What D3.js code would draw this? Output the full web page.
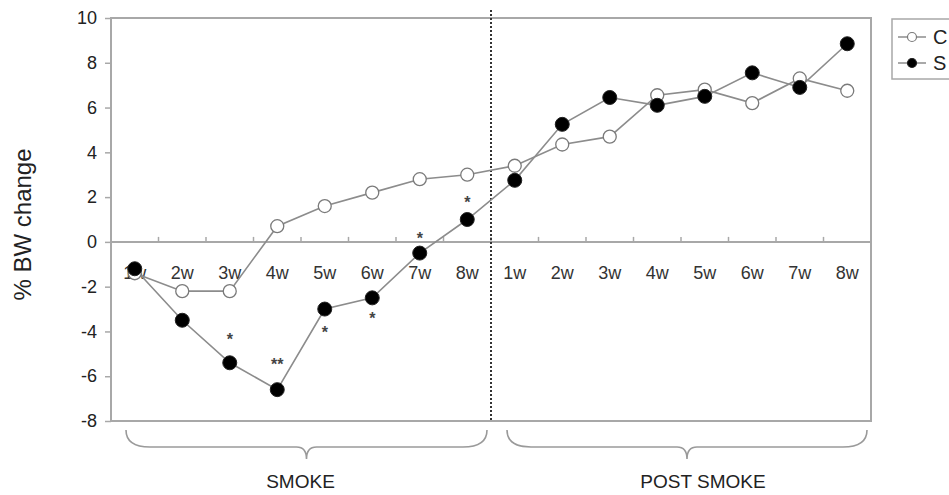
<!DOCTYPE html>
<html>
<head>
<meta charset="utf-8">
<script src="https://cdn.jsdelivr.net/npm/d3@7"></script>
<style>
  body { margin: 0; background: #fff; }
  svg { display: block; font-family: "Liberation Sans", Arial, sans-serif; }
</style>
</head>
<body>
<div id="chart"></div>
<script>
// data (% body weight change per week)
const weekLabels = ['1w', '2w', '3w', '4w', '5w', '6w', '7w', '8w'];
const phaseLabels = ['SMOKE', 'POST SMOKE'];
// legend labels are cut at the right edge in the figure, only the first letter shows
const seriesNames = ['C', 'S'];
const controlValues = [-1.4, -2.2, -2.2, 0.7, 1.6, 2.2, 2.8, 3.0, 3.4, 4.35, 4.7, 6.55, 6.8, 6.2, 7.3, 6.75];
const smokeValues = [-1.2, -3.5, -5.4, -6.6, -3.0, -2.5, -0.5, 1.0, 2.75, 5.25, 6.45, 6.1, 6.5, 7.55, 6.9, 8.85];
// significance marks (smoke vs control) and where they sit
const starLabels = ['', '', '*', '**', '*', '*', '*', '*', '', '', '', '', '', '', '', ''];
const starValues = [0, 0, -4.2, -5.3, -3.9, -3.25, 0.3, 1.9, 0, 0, 0, 0, 0, 0, 0, 0];
const yTicks = [-8, -6, -4, -2, 0, 2, 4, 6, 8, 10];

const width = 949, height = 495;
const plot = { left: 111, right: 871, top: 18, bottom: 421 };

// unique keys for the band scale, one per phase/week
const keys = [];
phaseLabels.forEach(p => weekLabels.forEach(w => keys.push(p + '|' + w)));

const x = d3.scaleBand().domain(keys).range([plot.left, plot.right]).padding(0);
const y = d3.scaleLinear().domain([-8, 10]).range([plot.bottom, plot.top]);
const cx = i => x(keys[i]) + x.bandwidth() / 2;

const svg = d3.select('#chart').append('svg')
    .attr('width', width)
    .attr('height', height);

const axisColor = '#a8a8a8';

// plot frame
svg.append('rect')
    .attr('x', plot.left).attr('y', plot.top)
    .attr('width', plot.right - plot.left)
    .attr('height', plot.bottom - plot.top)
    .attr('fill', 'none')
    .attr('stroke', axisColor)
    .attr('stroke-width', 2);

// y axis (plain hyphen minus like the original)
const yAxis = svg.append('g')
    .attr('transform', `translate(${plot.left},0)`)
    .call(d3.axisLeft(y).tickValues(yTicks).tickSize(6).tickPadding(8).tickFormat(d => String(d)));
yAxis.select('.domain').remove();
yAxis.selectAll('line').attr('stroke', axisColor).attr('stroke-width', 1.5);
yAxis.selectAll('text')
    .attr('fill', '#222')
    .style('font-size', '18px')
    .style('font-family', '"Liberation Sans", Arial, sans-serif');

svg.append('text')
    .attr('transform', `translate(31,${(y(10) + y(-8)) / 2 + 5}) rotate(-90)`)
    .attr('text-anchor', 'middle')
    .attr('fill', '#222')
    .style('font-size', '24px')
    .text('% BW change');

// zero line with week ticks
svg.append('line')
    .attr('x1', plot.left).attr('x2', plot.right)
    .attr('y1', y(0)).attr('y2', y(0))
    .attr('stroke', axisColor).attr('stroke-width', 2);

const bounds = keys.map(k => x(k)).concat([plot.right]);
svg.selectAll('.wtick').data(bounds).enter().append('line')
    .attr('class', 'wtick')
    .attr('x1', d => d).attr('x2', d => d)
    .attr('y1', y(0)).attr('y2', y(0) - 5)
    .attr('stroke', axisColor).attr('stroke-width', 1.5);

svg.selectAll('.wlabel').data(keys).enter().append('text')
    .attr('class', 'wlabel')
    .attr('x', (d, i) => cx(i))
    .attr('y', y(0) + 37)
    .attr('text-anchor', 'middle')
    .attr('fill', '#333')
    .style('font-size', '18px')
    .text(d => d.split('|')[1]);

// dotted divider between smoke and post smoke
const divX = x(keys[weekLabels.length]);
svg.append('line')
    .attr('x1', divX).attr('x2', divX)
    .attr('y1', plot.top - 8).attr('y2', plot.bottom)
    .attr('stroke', '#333')
    .attr('stroke-width', 2)
    .attr('stroke-dasharray', '2,2');

// series
const line = d3.line().x((d, i) => cx(i)).y(d => y(d));

[controlValues, smokeValues].forEach(vals => {
    svg.append('path').datum(vals)
        .attr('d', line)
        .attr('fill', 'none')
        .attr('stroke', '#8c8c8c')
        .attr('stroke-width', 1.6);
});

svg.selectAll('.ctrl').data(controlValues).enter().append('circle')
    .attr('class', 'ctrl')
    .attr('cx', (d, i) => cx(i))
    .attr('cy', d => y(d))
    .attr('r', 6.5)
    .attr('fill', '#fff')
    .attr('stroke', '#7a7a7a')
    .attr('stroke-width', 1.3);

svg.selectAll('.smk').data(smokeValues).enter().append('circle')
    .attr('class', 'smk')
    .attr('cx', (d, i) => cx(i))
    .attr('cy', d => y(d))
    .attr('r', 7)
    .attr('fill', '#000')
    .attr('stroke', '#222')
    .attr('stroke-width', 1);

// significance stars
starLabels.forEach((s, i) => {
    if (!s) return;
    svg.append('text')
        .attr('class', 'star')
        .attr('x', cx(i))
        .attr('y', y(starValues[i]) + 9)
        .attr('text-anchor', 'middle')
        .attr('fill', '#444')
        .style('font-size', '16px')
        .style('font-weight', 'bold')
        .text(s);
});

// braces under the plot
function brace(x1, x2, top) {
    const mid = top + 17, tip = top + 29, m = (x1 + x2) / 2;
    return `M${x1},${top} Q${x1},${mid} ${x1 + 24},${mid} L${m - 10},${mid} ` +
        `Q${m},${mid} ${m},${tip} Q${m},${mid} ${m + 10},${mid} L${x2 - 24},${mid} Q${x2},${mid} ${x2},${top}`;
}

phaseLabels.forEach((p, pi) => {
    const first = keys[pi * weekLabels.length];
    const last = keys[pi * weekLabels.length + weekLabels.length - 1];
    const x1 = x(first) + (pi === 0 ? 15 : 16);
    const x2 = x(last) + x.bandwidth() - 4;
    svg.append('path')
        .attr('d', brace(x1, x2, plot.bottom + 9))
        .attr('fill', 'none')
        .attr('stroke', '#9a9a9a')
        .attr('stroke-width', 1.6);
    svg.append('text')
        .attr('x', (x1 + x2) / 2 - (pi === 0 ? 6 : -16))
        .attr('y', 488)
        .attr('text-anchor', 'middle')
        .attr('fill', '#222')
        .style('font-size', '19px')
        .text(p);
});

// legend (box runs past the right edge, as in the figure)
const legend = svg.append('g').attr('transform', 'translate(892,19)');
legend.append('rect')
    .attr('width', 120).attr('height', 60)
    .attr('fill', '#fff')
    .attr('stroke', axisColor)
    .attr('stroke-width', 1.5);

seriesNames.forEach((name, i) => {
    const g = legend.append('g').attr('transform', `translate(0,${18 + i * 26})`);
    g.append('line')
        .attr('x1', 6).attr('x2', 34)
        .attr('stroke', '#8c8c8c').attr('stroke-width', 1.5);
    g.append('circle')
        .attr('cx', 20).attr('r', 4.5)
        .attr('fill', i === 0 ? '#fff' : '#000')
        .attr('stroke', i === 0 ? '#7a7a7a' : '#222')
        .attr('stroke-width', 1.2);
    g.append('text')
        .attr('x', 41)
        .attr('dy', '0.36em')
        .attr('fill', '#222')
        .style('font-size', '20px')
        .text(name);
});
</script>
</body>
</html>
